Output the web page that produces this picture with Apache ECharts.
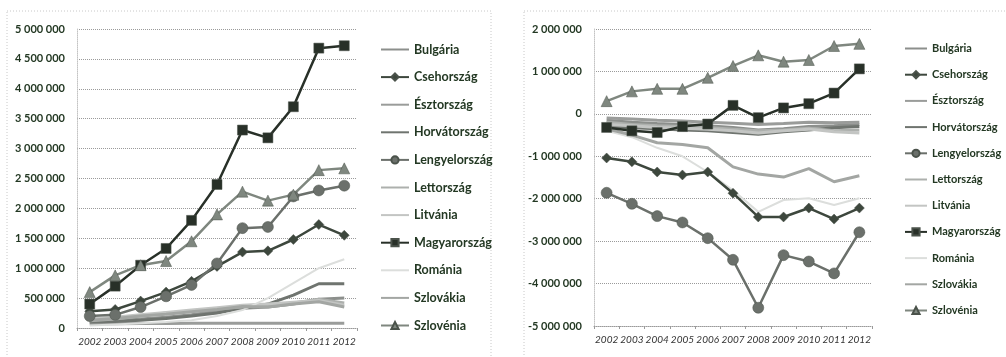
<!DOCTYPE html>
<html>
<head>
<meta charset="utf-8">
<script src="https://cdn.jsdelivr.net/npm/echarts@6/dist/echarts.min.js"></script>
<style>
  html, body { margin: 0; padding: 0; background: #fff; }
  #chart { width: 1006px; height: 357px; }
</style>
</head>
<body>
<div id="chart"></div>
<script>
// years on both x axes
const years = ['2002', '2003', '2004', '2005', '2006', '2007', '2008', '2009', '2010', '2011', '2012']
const countries = ['Bulgária', 'Csehország', 'Észtország', 'Horvátország', 'Lengyelország', 'Lettország',
  'Litvánia', 'Magyarország', 'Románia', 'Szlovákia', 'Szlovénia']

// left chart values
const leftBulgaria = [100000, 120000, 150000, 180000, 220000, 280000, 330000, 350000, 400000, 480000, 500000]
const leftCseh = [280000, 310000, 450000, 600000, 780000, 1030000, 1270000, 1290000, 1480000, 1730000, 1550000]
const leftEszt = [70000, 70000, 75000, 75000, 80000, 80000, 80000, 80000, 80000, 80000, 80000]
const leftHorvat = [100000, 110000, 130000, 160000, 200000, 250000, 330000, 400000, 550000, 740000, 740000]
const leftLengyel = [200000, 220000, 350000, 530000, 720000, 1080000, 1670000, 1690000, 2200000, 2300000, 2380000]
const leftLett = [120000, 150000, 200000, 250000, 280000, 320000, 350000, 380000, 420000, 480000, 420000]
const leftLitv = [150000, 180000, 220000, 260000, 300000, 340000, 380000, 400000, 430000, 460000, 380000]
const leftMagyar = [400000, 700000, 1050000, 1330000, 1800000, 2400000, 3310000, 3180000, 3700000, 4680000, 4720000]
const leftRoman = [40000, 60000, 80000, 100000, 130000, 200000, 300000, 500000, 750000, 1000000, 1150000]
const leftSzlovak = [130000, 160000, 200000, 230000, 270000, 310000, 360000, 350000, 400000, 440000, 350000]
const leftSzloven = [600000, 880000, 1050000, 1120000, 1450000, 1900000, 2280000, 2130000, 2230000, 2640000, 2670000]

// right chart values
const rightBulgaria = [-150000, -200000, -230000, -250000, -280000, -320000, -380000, -350000, -300000, -280000, -250000]
const rightCseh = [-1040000, -1130000, -1370000, -1440000, -1370000, -1870000, -2430000, -2430000, -2220000, -2480000, -2220000]
const rightEszt = [-100000, -120000, -150000, -170000, -200000, -220000, -250000, -230000, -200000, -210000, -200000]
const rightHorvat = [-300000, -330000, -350000, -380000, -400000, -440000, -480000, -420000, -380000, -330000, -300000]
const rightLengyel = [-1860000, -2120000, -2410000, -2560000, -2930000, -3440000, -4570000, -3330000, -3480000, -3760000, -2790000]
const rightLett = [-200000, -250000, -280000, -300000, -320000, -360000, -400000, -380000, -340000, -400000, -380000]
const rightLitv = [-250000, -280000, -320000, -340000, -360000, -400000, -450000, -400000, -360000, -420000, -450000]
const rightMagyar = [-320000, -400000, -440000, -300000, -240000, 200000, -90000, 140000, 240000, 490000, 1060000]
const rightRoman = [-400000, -550000, -800000, -1000000, -1370000, -1800000, -2310000, -2030000, -1990000, -2150000, -1990000]
const rightSzlovak = [-350000, -500000, -680000, -720000, -800000, -1250000, -1420000, -1490000, -1290000, -1600000, -1460000]
const rightSzloven = [300000, 530000, 590000, 590000, 850000, 1130000, 1380000, 1230000, 1270000, 1600000, 1650000]

const leftTicks = [0, 500000, 1000000, 1500000, 2000000, 2500000, 3000000, 3500000, 4000000, 4500000, 5000000]
const rightTicks = [-5000000, -4000000, -3000000, -2000000, -1000000, 0, 1000000, 2000000]

const leftData = [leftBulgaria, leftCseh, leftEszt, leftHorvat, leftLengyel, leftLett, leftLitv, leftMagyar, leftRoman, leftSzlovak, leftSzloven]
const rightData = [rightBulgaria, rightCseh, rightEszt, rightHorvat, rightLengyel, rightLett, rightLitv, rightMagyar, rightRoman, rightSzlovak, rightSzloven]

// look of each country: colour, marker, marker size, line width
const styles = [
  { color: '#8c8f8c', symbol: 'none', size: 0, width: 3 },
  { color: '#3d473d', symbol: 'diamond', size: 10, width: 2.5 },
  { color: '#9a9c9a', symbol: 'none', size: 0, width: 3 },
  { color: '#6f746f', symbol: 'none', size: 0, width: 3 },
  { color: '#6b706b', symbol: 'circle', size: 11, width: 2.5 },
  { color: '#adb0ad', symbol: 'none', size: 0, width: 3 },
  { color: '#c3c5c3', symbol: 'none', size: 0, width: 3 },
  { color: '#283028', symbol: 'rect', size: 10, width: 2.5 },
  { color: '#dcdedc', symbol: 'none', size: 0, width: 2 },
  { color: '#a3a6a3', symbol: 'none', size: 0, width: 3 },
  { color: '#7f877f', symbol: 'triangle', size: 11, width: 2.5 }
]

// hide the legend marker for plain lines
const legendItems = countries.map((name, i) => styles[i].symbol === 'none'
  ? { name, itemStyle: { opacity: 0 } }
  : { name })

const fmt = v => String(Math.round(v)).replace(/\B(?=(\d{3})+(?!\d))/g, ' ')
const textColor = '#233823'

const makeSeries = (data, idx) => countries.map((name, i) => ({
  name,
  type: 'line',
  xAxisIndex: idx,
  yAxisIndex: idx,
  data: data[i],
  symbol: styles[i].symbol,
  symbolSize: styles[i].size,
  showSymbol: styles[i].symbol !== 'none',
  itemStyle: { color: styles[i].color, borderColor: '#4a524a', borderWidth: 0.5 },
  lineStyle: { color: styles[i].color, width: styles[i].width },
  emphasis: { disabled: true },
  z: styles[i].symbol === 'none' ? 2 : 3
}))

const xAxisBase = idx => ({
  type: 'category',
  gridIndex: idx,
  data: years,
  boundaryGap: true,
  axisLine: { onZero: false, lineStyle: { color: '#9a9a9a', type: 'dotted' } },
  axisTick: { show: true, length: 3, lineStyle: { color: '#9a9a9a' } },
  axisLabel: { interval: 0, color: '#333', fontSize: 10, fontStyle: 'italic', fontFamily: 'Lato', margin: 9 }
})

const yAxisBase = (idx, ticks) => ({
  type: 'value',
  gridIndex: idx,
  min: ticks[0],
  max: ticks[ticks.length - 1],
  interval: ticks[1] - ticks[0],
  axisLine: { show: true, lineStyle: { color: '#c4c4c4', type: 'dotted' } },
  axisTick: { show: false },
  axisLabel: { color: textColor, fontSize: 11, fontWeight: 700, fontFamily: 'Lato', formatter: fmt, margin: 12 },
  splitLine: { lineStyle: { color: '#9a9a9a', type: 'dotted' } }
})

const legendBase = (left, w, size, gap) => ({
  orient: 'vertical',
  left,
  top: 38,
  itemWidth: w,
  itemHeight: 9,
  itemGap: gap,
  selectedMode: false,
  data: legendItems,
  textStyle: { color: textColor, fontSize: size, fontWeight: 700, fontFamily: 'Lato' }
})

const chart = echarts.init(document.getElementById('chart'))
chart.setOption({
  animation: false,
  backgroundColor: '#fff',
  graphic: [
    { type: 'rect', shape: { x: 7, y: 11, width: 484, height: 360 }, style: { fill: 'none', stroke: '#c8c8c8', lineWidth: 1, lineDash: [1, 2] }, silent: true },
    { type: 'rect', shape: { x: 524, y: 11, width: 490, height: 360 }, style: { fill: 'none', stroke: '#c8c8c8', lineWidth: 1, lineDash: [1, 2] }, silent: true }
  ],
  legend: [legendBase(375, 28, 12.5, 14.6), legendBase(899, 22, 11, 15.2)],
  grid: [
    { left: 77, right: 649, top: 29, bottom: 29 },
    { left: 594, right: 134, top: 29, bottom: 31 }
  ],
  xAxis: [xAxisBase(0), xAxisBase(1)],
  yAxis: [yAxisBase(0, leftTicks), yAxisBase(1, rightTicks)],
  series: [...makeSeries(leftData, 0), ...makeSeries(rightData, 1)]
})
window.addEventListener('resize', () => chart.resize())
</script>
</body>
</html>
